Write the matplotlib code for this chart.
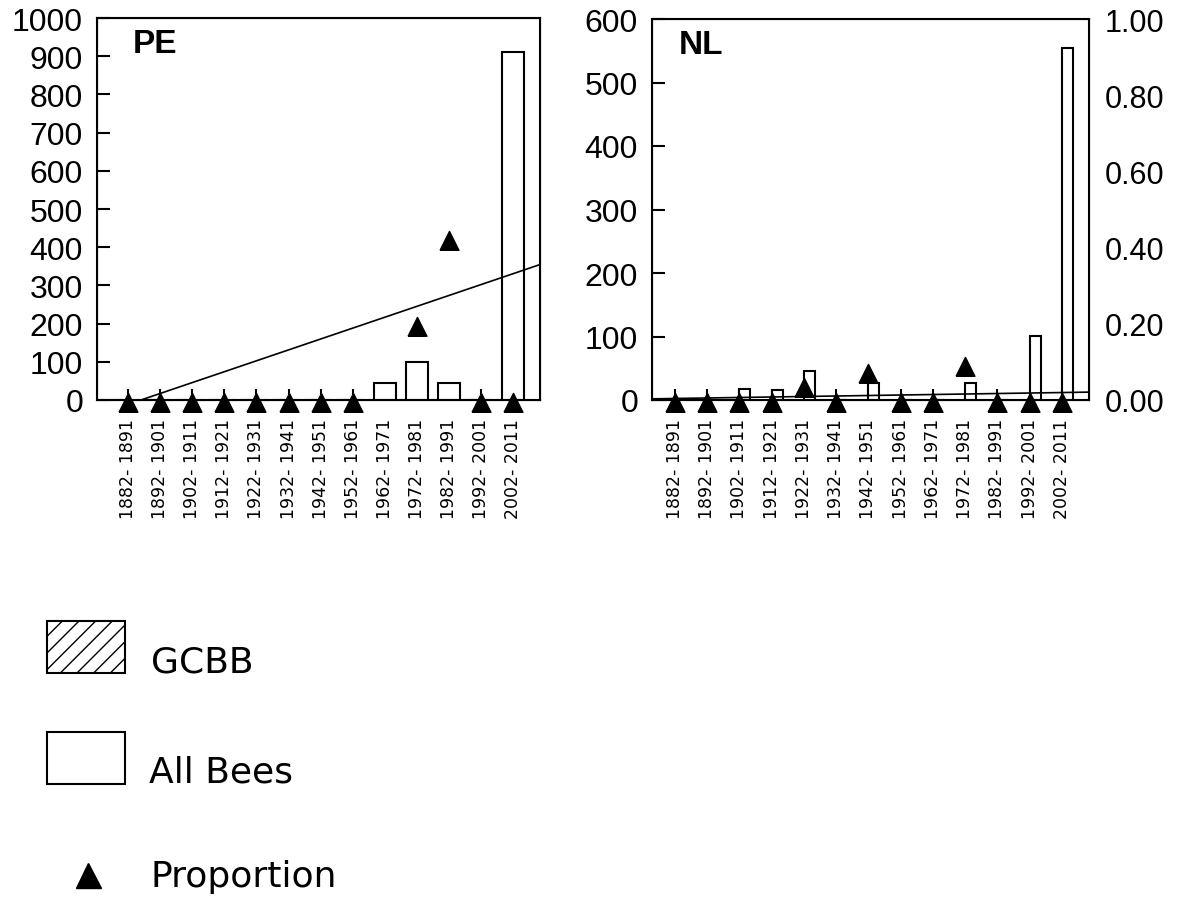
import numpy as np
import matplotlib
matplotlib.use("Agg")
import matplotlib.pyplot as plt
from matplotlib.patches import Rectangle
from matplotlib.lines import Line2D

plt.rcParams["font.family"] = ["Liberation Sans", "DejaVu Sans"]
plt.rcParams["hatch.linewidth"] = 1.0

# data
periods = ["1882- 1891", "1892- 1901", "1902- 1911", "1912- 1921", "1922- 1931",
           "1932- 1941", "1942- 1951", "1952- 1961", "1962- 1971", "1972- 1981",
           "1982- 1991", "1992- 2001", "2002- 2011"]

pe_all = [0, 0, 0, 0, 0, 0, 0, 0, 44, 99, 44, 0, 911]
pe_gcbb = [0, 0, 0, 0, 0, 0, 0, 0, 0, 0, 0, 0, 0]
pe_prop = [0, 0, 0, 0, 0, 0, 0, 0, np.nan, 0.20, 0.425, 0, 0]
pe_trend = [-0.0114, 0.0285]   # intercept, slope (proportion per period)

nl_all = [0, 0, 18, 16, 46, 0, 26, 0, 0, 27, 0, 101, 554]
nl_gcbb = [0, 0, 0, 0, 0, 0, 0, 0, 0, 0, 0, 0, 0]
nl_prop = [0, 0, 0, 0, 0.04, 0, 0.075, 0, 0, 0.095, 0, 0, 0]
nl_trend = [0.004, 0.0013]

x = np.arange(len(periods))
W, H = 1184, 903

# triangle sitting a little below its point, like the original markers
tri = [(-1, -1.25), (1, -1.25), (0, 0.75), (-1, -1.25)]

fig = plt.figure(figsize=(W / 100, H / 100), dpi=100)
ax_pe = fig.add_axes([97 / W, 1 - 401 / H, 443 / W, 382 / H])
ax_nl = fig.add_axes([652 / W, 1 - 401 / H, 437 / W, 381 / H])


def style_axis(ax, ymax, yticks, xlim):
    ax.set_axisbelow(True)
    ax.set_xlim(*xlim)
    ax.set_ylim(0, ymax)
    ax.set_yticks(yticks)
    ax.set_xticks(x)
    ax.set_xticklabels(periods, rotation=90, fontsize=12.5, va="top",
                       family="DejaVu Sans")
    ax.tick_params(axis="y", direction="in", length=9, width=1.5, labelsize=23, pad=10)
    ax.tick_params(axis="x", direction="in", length=8, width=1.5, pad=13)
    for s in ax.spines.values():
        s.set_linewidth(1.5)


# PE panel
ax_pe.bar(x - 0.35, pe_gcbb, width=0.35, facecolor="white", edgecolor="black",
          hatch="//", linewidth=1.5)
ax_pe.bar(x, pe_all, width=0.7, facecolor="white", edgecolor="black", linewidth=1.5)
style_axis(ax_pe, 1000, range(0, 1001, 100), (-0.97, 12.84))
ax_pe.text(0.08, 0.975, "PE", transform=ax_pe.transAxes, fontsize=24,
           fontweight="bold", va="top", ha="left")

pe_tw = ax_pe.twinx()
pe_tw.set_ylim(0, 1)
pe_tw.set_yticks([])
pe_tw.axline((0, pe_trend[0]), slope=pe_trend[1], color="black", linewidth=1.2)
pe_tw.plot(x, pe_prop, linestyle="none", marker=tri, markersize=17, color="black",
           clip_on=False, zorder=5)

# NL panel
ax_nl.bar(x, nl_gcbb, width=0.34, align="edge", facecolor="white",
          edgecolor="black", hatch="//", linewidth=1.5)
ax_nl.bar(x, nl_all, width=0.34, align="edge", facecolor="white",
          edgecolor="black", linewidth=1.5)
style_axis(ax_nl, 600, range(0, 601, 100), (-0.71, 12.84))
ax_nl.text(0.062, 0.975, "NL", transform=ax_nl.transAxes, fontsize=24,
           fontweight="bold", va="top", ha="left")

nl_tw = ax_nl.twinx()
nl_tw.set_ylim(0, 1)
nl_tw.set_yticks(np.arange(0, 1.01, 0.2))
nl_tw.set_yticklabels([f"{v:.2f}" for v in np.arange(0, 1.01, 0.2)])
nl_tw.tick_params(axis="y", length=0, labelsize=22, pad=11)
nl_tw.axline((0, nl_trend[0]), slope=nl_trend[1], color="black", linewidth=1.2)
nl_tw.plot(x, nl_prop, linestyle="none", marker=tri, markersize=17, color="black",
           clip_on=False, zorder=5)

# legend, drawn in figure pixels
def fx(px):
    return px / W


def fy(py):
    return 1 - py / H


leg_font = dict(fontsize=26, family="DejaVu Sans", va="baseline", ha="left")
fig.add_artist(Rectangle((fx(47), fy(674)), 78 / W, 52 / H, transform=fig.transFigure,
                         facecolor="white", edgecolor="black", hatch="//", linewidth=1.5))
fig.text(fx(151), fy(673), "GCBB", **leg_font)
fig.add_artist(Rectangle((fx(47), fy(785)), 78 / W, 52 / H, transform=fig.transFigure,
                         facecolor="white", edgecolor="black", linewidth=1.5))
fig.text(fx(149), fy(783), "All Bees", **leg_font)
fig.add_artist(Line2D([fx(88)], [fy(876)], transform=fig.transFigure, linestyle="none",
                      marker="^", markersize=18, color="black"))
fig.text(fx(151), fy(887), "Proportion", **leg_font)

fig.savefig("out.png", dpi=100)
